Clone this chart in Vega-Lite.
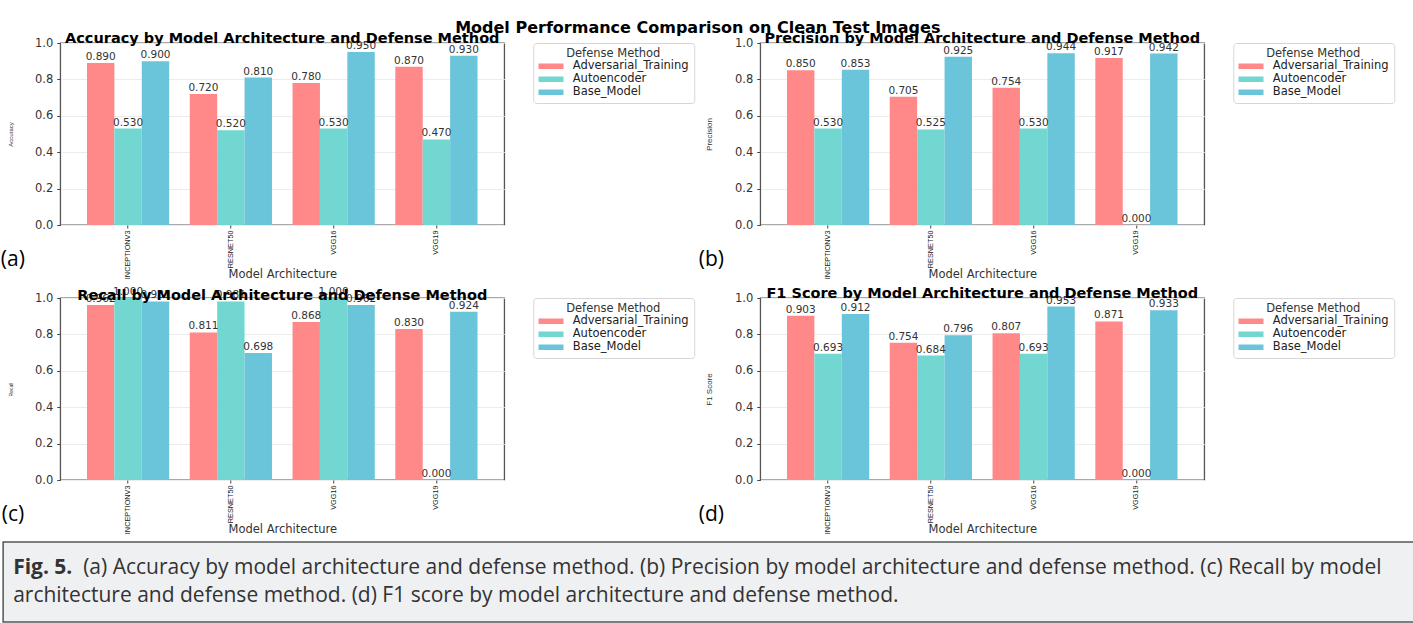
{
  "$schema": "https://vega.github.io/schema/vega-lite/v6.json",
  "background": "white",
  "padding": {"left": 0, "top": 19, "right": 0, "bottom": 0},
  "datasets": {
    "perf": [
      {"metric": "Accuracy", "model": "INCEPTIONV3", "method": "Adversarial_Training", "value": 0.890},
      {"metric": "Accuracy", "model": "INCEPTIONV3", "method": "Autoencoder", "value": 0.530},
      {"metric": "Accuracy", "model": "INCEPTIONV3", "method": "Base_Model", "value": 0.900},
      {"metric": "Accuracy", "model": "RESNET50", "method": "Adversarial_Training", "value": 0.720},
      {"metric": "Accuracy", "model": "RESNET50", "method": "Autoencoder", "value": 0.520},
      {"metric": "Accuracy", "model": "RESNET50", "method": "Base_Model", "value": 0.810},
      {"metric": "Accuracy", "model": "VGG16", "method": "Adversarial_Training", "value": 0.780},
      {"metric": "Accuracy", "model": "VGG16", "method": "Autoencoder", "value": 0.530},
      {"metric": "Accuracy", "model": "VGG16", "method": "Base_Model", "value": 0.950},
      {"metric": "Accuracy", "model": "VGG19", "method": "Adversarial_Training", "value": 0.870},
      {"metric": "Accuracy", "model": "VGG19", "method": "Autoencoder", "value": 0.470},
      {"metric": "Accuracy", "model": "VGG19", "method": "Base_Model", "value": 0.930},
      {"metric": "Precision", "model": "INCEPTIONV3", "method": "Adversarial_Training", "value": 0.850},
      {"metric": "Precision", "model": "INCEPTIONV3", "method": "Autoencoder", "value": 0.530},
      {"metric": "Precision", "model": "INCEPTIONV3", "method": "Base_Model", "value": 0.853},
      {"metric": "Precision", "model": "RESNET50", "method": "Adversarial_Training", "value": 0.705},
      {"metric": "Precision", "model": "RESNET50", "method": "Autoencoder", "value": 0.525},
      {"metric": "Precision", "model": "RESNET50", "method": "Base_Model", "value": 0.925},
      {"metric": "Precision", "model": "VGG16", "method": "Adversarial_Training", "value": 0.754},
      {"metric": "Precision", "model": "VGG16", "method": "Autoencoder", "value": 0.530},
      {"metric": "Precision", "model": "VGG16", "method": "Base_Model", "value": 0.944},
      {"metric": "Precision", "model": "VGG19", "method": "Adversarial_Training", "value": 0.917},
      {"metric": "Precision", "model": "VGG19", "method": "Autoencoder", "value": 0.000},
      {"metric": "Precision", "model": "VGG19", "method": "Base_Model", "value": 0.942},
      {"metric": "Recall", "model": "INCEPTIONV3", "method": "Adversarial_Training", "value": 0.962},
      {"metric": "Recall", "model": "INCEPTIONV3", "method": "Autoencoder", "value": 1.000},
      {"metric": "Recall", "model": "INCEPTIONV3", "method": "Base_Model", "value": 0.981},
      {"metric": "Recall", "model": "RESNET50", "method": "Adversarial_Training", "value": 0.811},
      {"metric": "Recall", "model": "RESNET50", "method": "Autoencoder", "value": 0.981},
      {"metric": "Recall", "model": "RESNET50", "method": "Base_Model", "value": 0.698},
      {"metric": "Recall", "model": "VGG16", "method": "Adversarial_Training", "value": 0.868},
      {"metric": "Recall", "model": "VGG16", "method": "Autoencoder", "value": 1.000},
      {"metric": "Recall", "model": "VGG16", "method": "Base_Model", "value": 0.962},
      {"metric": "Recall", "model": "VGG19", "method": "Adversarial_Training", "value": 0.830},
      {"metric": "Recall", "model": "VGG19", "method": "Autoencoder", "value": 0.000},
      {"metric": "Recall", "model": "VGG19", "method": "Base_Model", "value": 0.924},
      {"metric": "F1 Score", "model": "INCEPTIONV3", "method": "Adversarial_Training", "value": 0.903},
      {"metric": "F1 Score", "model": "INCEPTIONV3", "method": "Autoencoder", "value": 0.693},
      {"metric": "F1 Score", "model": "INCEPTIONV3", "method": "Base_Model", "value": 0.912},
      {"metric": "F1 Score", "model": "RESNET50", "method": "Adversarial_Training", "value": 0.754},
      {"metric": "F1 Score", "model": "RESNET50", "method": "Autoencoder", "value": 0.684},
      {"metric": "F1 Score", "model": "RESNET50", "method": "Base_Model", "value": 0.796},
      {"metric": "F1 Score", "model": "VGG16", "method": "Adversarial_Training", "value": 0.807},
      {"metric": "F1 Score", "model": "VGG16", "method": "Autoencoder", "value": 0.693},
      {"metric": "F1 Score", "model": "VGG16", "method": "Base_Model", "value": 0.953},
      {"metric": "F1 Score", "model": "VGG19", "method": "Adversarial_Training", "value": 0.871},
      {"metric": "F1 Score", "model": "VGG19", "method": "Autoencoder", "value": 0.000},
      {"metric": "F1 Score", "model": "VGG19", "method": "Base_Model", "value": 0.933}
    ],
    "caption": [
      {"line": 1, "part": "bold", "text": "Fig. 5."},
      {"line": 1, "part": "body", "text": "(a) Accuracy by model architecture and defense method. (b) Precision by model architecture and defense method. (c) Recall by model"},
      {"line": 2, "part": "body2", "text": "architecture and defense method. (d) F1 score by model architecture and defense method."}
    ]
  },
  "config": {
    "font": "DejaVu Sans",
    "view": {"stroke": "#555", "strokeWidth": 1.3},
    "axis": {"labelFont": "DejaVu Sans", "titleFont": "DejaVu Sans", "labelColor": "#333", "titleColor": "#333", "titleFontWeight": "normal", "tickColor": "#444", "domain": false},
    "axisX": {"labelAngle": -90, "labelFont": "Liberation Sans", "labelFontSize": 7.3, "labelColor": "#222", "titleFontSize": 11.5, "titlePadding": -10, "tickSize": 3, "labelPadding": 2, "grid": false},
    "axisY": {"titleFont": "Liberation Sans", "titlePadding": 21, "labelFontSize": 11.5, "labelPadding": 4, "tickSize": 3.5, "grid": true, "gridColor": "#ececec"},
    "legend": {
      "orient": "right", "offset": 28,
      "titleFont": "DejaVu Sans", "titleFontSize": 11.5, "titleFontWeight": "normal", "titleColor": "#333", "titleAnchor": "middle", "titlePadding": 1,
      "labelFont": "DejaVu Sans", "labelFontSize": 11.5, "labelColor": "#222", "labelOffset": 16,
      "symbolType": "M-2.5,-0.55H2.5V0.55H-2.5Z", "symbolSize": 100, "symbolOffset": 7, "symbolStrokeWidth": 0, "symbolOpacity": 1,
      "strokeColor": "#d6d6d6", "fillColor": "white", "padding": 5, "cornerRadius": 3, "rowPadding": 0
    },
    "title": {"font": "DejaVu Sans", "color": "black"}
  },
  "spacing": 5,
  "center": true,
  "vconcat": [
    {
      "title": {"text": "Model Performance Comparison on Clean Test Images", "anchor": "middle", "fontSize": 16, "fontWeight": "bold", "offset": -6, "dx": 0},
      "columns": 2,
      "spacing": {"row": 3, "column": 3},
      "resolve": {"scale": {"color": "independent"}},
      "concat": [
        {
          "title": {"text": "(a)", "orient": "bottom", "anchor": "start", "font": "Open Sans", "fontSize": 21, "fontWeight": "normal", "offset": -32, "dx": -6},
          "vconcat": [
            {
              "width": 444, "height": 182,
              "title": {"text": "Accuracy by Model Architecture and Defense Method", "fontSize": 14.5, "fontWeight": "bold", "anchor": "middle", "frame": "group", "offset": -9},
              "data": {"name": "perf"},
              "transform": [{"filter": "datum.metric === 'Accuracy'"}],
              "encoding": {
                "x": {"field": "model", "type": "nominal", "sort": ["INCEPTIONV3", "RESNET50", "VGG16", "VGG19"], "scale": {"paddingInner": 0.2, "paddingOuter": 0.26}, "axis": {"title": "Model Architecture"}},
                "xOffset": {"field": "method", "type": "nominal", "sort": ["Adversarial_Training", "Autoencoder", "Base_Model"], "scale": {"paddingInner": 0, "paddingOuter": 0}},
                "y": {"field": "value", "type": "quantitative", "scale": {"domain": [0, 1]},
                      "axis": {"title": "Accuracy", "titleFontSize": 6, "values": [0, 0.2, 0.4, 0.6, 0.8, 1], "format": ".1f"}}
              },
              "layer": [
                {"mark": {"type": "bar"},
                 "encoding": {"color": {"field": "method", "type": "nominal", "scale": {"domain": ["Adversarial_Training", "Autoencoder", "Base_Model"], "range": ["#ff8989", "#71d7d0", "#6ac5da"]}, "legend": {"title": "Defense Method"}}}},
                {"mark": {"type": "text", "baseline": "bottom", "dy": -1, "fontSize": 10.5, "color": "#333"},
                 "encoding": {"text": {"field": "value", "type": "quantitative", "format": ".3f"}}}
              ]
            }
          ]
        },
        {
          "title": {"text": "(b)", "orient": "bottom", "anchor": "start", "font": "Open Sans", "fontSize": 21, "fontWeight": "normal", "offset": -32, "dx": -6},
          "vconcat": [
            {
              "width": 444, "height": 182,
              "title": {"text": "Precision by Model Architecture and Defense Method", "fontSize": 14.5, "fontWeight": "bold", "anchor": "middle", "frame": "group", "offset": -9},
              "data": {"name": "perf"},
              "transform": [{"filter": "datum.metric === 'Precision'"}],
              "encoding": {
                "x": {"field": "model", "type": "nominal", "sort": ["INCEPTIONV3", "RESNET50", "VGG16", "VGG19"], "scale": {"paddingInner": 0.2, "paddingOuter": 0.26}, "axis": {"title": "Model Architecture"}},
                "xOffset": {"field": "method", "type": "nominal", "sort": ["Adversarial_Training", "Autoencoder", "Base_Model"], "scale": {"paddingInner": 0, "paddingOuter": 0}},
                "y": {"field": "value", "type": "quantitative", "scale": {"domain": [0, 1]},
                      "axis": {"title": "Precision", "titleFontSize": 8, "values": [0, 0.2, 0.4, 0.6, 0.8, 1], "format": ".1f"}}
              },
              "layer": [
                {"mark": {"type": "bar"},
                 "encoding": {"color": {"field": "method", "type": "nominal", "scale": {"domain": ["Adversarial_Training", "Autoencoder", "Base_Model"], "range": ["#ff8989", "#71d7d0", "#6ac5da"]}, "legend": {"title": "Defense Method", "labelLimit": 118}}}},
                {"mark": {"type": "text", "baseline": "bottom", "dy": -1, "fontSize": 10.5, "color": "#333"},
                 "encoding": {"text": {"field": "value", "type": "quantitative", "format": ".3f"}}}
              ]
            }
          ]
        },
        {
          "title": {"text": "(c)", "orient": "bottom", "anchor": "start", "font": "Open Sans", "fontSize": 21, "fontWeight": "normal", "offset": -32, "dx": -6},
          "vconcat": [
            {
              "width": 444, "height": 182,
              "title": {"text": "Recall by Model Architecture and Defense Method", "fontSize": 14.5, "fontWeight": "bold", "anchor": "middle", "frame": "group", "offset": -16},
              "data": {"name": "perf"},
              "transform": [{"filter": "datum.metric === 'Recall'"}],
              "encoding": {
                "x": {"field": "model", "type": "nominal", "sort": ["INCEPTIONV3", "RESNET50", "VGG16", "VGG19"], "scale": {"paddingInner": 0.2, "paddingOuter": 0.26}, "axis": {"title": "Model Architecture"}},
                "xOffset": {"field": "method", "type": "nominal", "sort": ["Adversarial_Training", "Autoencoder", "Base_Model"], "scale": {"paddingInner": 0, "paddingOuter": 0}},
                "y": {"field": "value", "type": "quantitative", "scale": {"domain": [0, 1]},
                      "axis": {"title": "Recall", "titleFontSize": 5, "values": [0, 0.2, 0.4, 0.6, 0.8, 1], "format": ".1f"}}
              },
              "layer": [
                {"mark": {"type": "bar"},
                 "encoding": {"color": {"field": "method", "type": "nominal", "scale": {"domain": ["Adversarial_Training", "Autoencoder", "Base_Model"], "range": ["#ff8989", "#71d7d0", "#6ac5da"]}, "legend": {"title": "Defense Method"}}}},
                {"mark": {"type": "text", "baseline": "bottom", "dy": -1, "fontSize": 10.5, "color": "#333"},
                 "encoding": {"text": {"field": "value", "type": "quantitative", "format": ".3f"}}}
              ]
            }
          ]
        },
        {
          "title": {"text": "(d)", "orient": "bottom", "anchor": "start", "font": "Open Sans", "fontSize": 21, "fontWeight": "normal", "offset": -32, "dx": -6},
          "vconcat": [
            {
              "width": 444, "height": 182,
              "title": {"text": "F1 Score by Model Architecture and Defense Method", "fontSize": 14.5, "fontWeight": "bold", "anchor": "middle", "frame": "group", "offset": -9},
              "data": {"name": "perf"},
              "transform": [{"filter": "datum.metric === 'F1 Score'"}],
              "encoding": {
                "x": {"field": "model", "type": "nominal", "sort": ["INCEPTIONV3", "RESNET50", "VGG16", "VGG19"], "scale": {"paddingInner": 0.2, "paddingOuter": 0.26}, "axis": {"title": "Model Architecture"}},
                "xOffset": {"field": "method", "type": "nominal", "sort": ["Adversarial_Training", "Autoencoder", "Base_Model"], "scale": {"paddingInner": 0, "paddingOuter": 0}},
                "y": {"field": "value", "type": "quantitative", "scale": {"domain": [0, 1]},
                      "axis": {"title": "F1 Score", "titleFontSize": 8, "values": [0, 0.2, 0.4, 0.6, 0.8, 1], "format": ".1f"}}
              },
              "layer": [
                {"mark": {"type": "bar"},
                 "encoding": {"color": {"field": "method", "type": "nominal", "scale": {"domain": ["Adversarial_Training", "Autoencoder", "Base_Model"], "range": ["#ff8989", "#71d7d0", "#6ac5da"]}, "legend": {"title": "Defense Method", "labelLimit": 118}}}},
                {"mark": {"type": "text", "baseline": "bottom", "dy": -1, "fontSize": 10.5, "color": "#333"},
                 "encoding": {"text": {"field": "value", "type": "quantitative", "format": ".3f"}}}
              ]
            }
          ]
        }
      ]
    },
    {
      "width": 1448, "height": 80,
      "view": {"fill": "#eff0f2", "stroke": "#555", "strokeWidth": 1.5},
      "data": {"name": "caption"},
      "encoding": {
        "x": {"datum": 0, "type": "quantitative", "scale": {"domain": [0, 1]}, "axis": null},
        "y": {"field": "line", "type": "ordinal", "axis": null, "scale": {"padding": 0.93}},
        "text": {"field": "text"}
      },
      "layer": [
        {"transform": [{"filter": "datum.part === 'bold'"}], "mark": {"type": "text", "align": "left", "baseline": "middle", "dx": 10, "font": "Open Sans", "fontSize": 21, "fontWeight": "bold", "color": "#333"}},
        {"transform": [{"filter": "datum.part === 'body'"}], "mark": {"type": "text", "align": "left", "baseline": "middle", "dx": 80, "font": "Open Sans", "fontSize": 21, "color": "#333"}},
        {"transform": [{"filter": "datum.part === 'body2'"}], "mark": {"type": "text", "align": "left", "baseline": "middle", "dx": 10, "font": "Open Sans", "fontSize": 21, "color": "#333"}}
      ]
    }
  ]
}
